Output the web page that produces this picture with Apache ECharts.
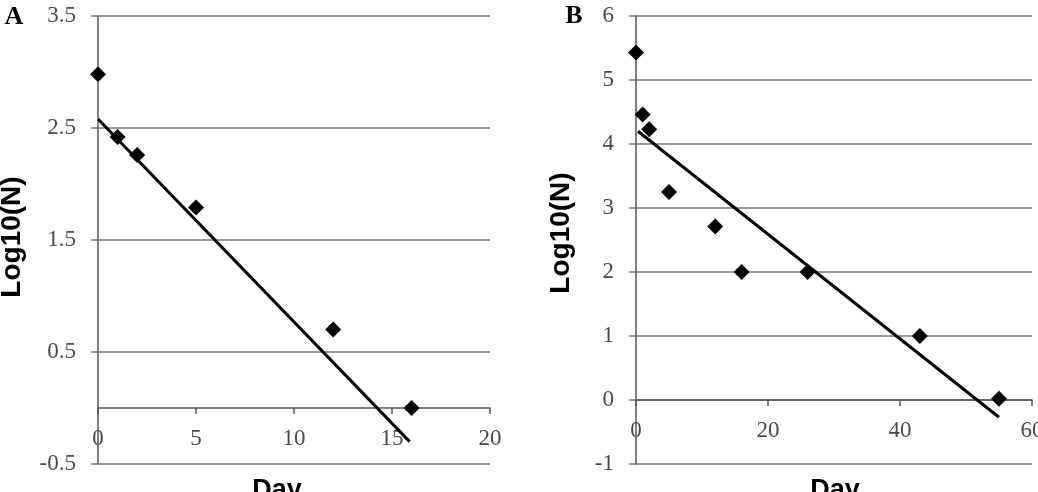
<!DOCTYPE HTML>
<html lang="en">

<head>
	<meta charset="utf-8">
	<title>Log10(N) vs Day</title>
	<style>
		html, body {
			margin: 0;
			padding: 0;
			background: #fff;
		}

		#chart {
			width: 1038px;
			height: 492px;
		}
	</style>
</head>

<body>
	<div id="chart"></div>

	<script src="https://cdn.jsdelivr.net/npm/echarts@6/dist/echarts.min.js"></script>

	<script>
		// panel A
		var daysA = [0, 1, 2, 5, 12, 16];
		var logA = [2.98, 2.42, 2.26, 1.79, 0.70, 0.0];
		var trendA = [[0, 2.58], [15.9, -0.3]];
		var yTicksA = ['-0.5', '0.5', '1.5', '2.5', '3.5'];

		// panel B
		var daysB = [0, 1, 2, 5, 12, 16, 26, 43, 55];
		var logB = [5.43, 4.46, 4.23, 3.25, 2.71, 2.0, 2.0, 1.0, 0.02];
		var trendB = [[0.3, 4.2], [55, -0.27]];

		var tickFont = 'Liberation Serif, Times New Roman, serif';
		var titleFont = 'Liberation Sans, Arial, sans-serif';
		var gridColor = '#777';

		function pairs(xs, ys) {
			return xs.map(function (x, i) { return [x, ys[i]]; });
		}

		var label = {
			color: '#4a4a4a',
			fontFamily: tickFont,
			fontSize: 23,
			margin: 19
		};

		var chart = echarts.init(document.getElementById('chart'));

		// x axes cross at y = 0, i.e. 56px (A) and 64px (B) above the plot bottom
		chart.setOption({
			animation: false,
			grid: [
				{ left: 98, right: 548, top: 16, bottom: 28, containLabel: false, outerBoundsMode: 'none' },
				{ left: 636, right: 6, top: 16, bottom: 28, containLabel: false, outerBoundsMode: 'none' }
			],
			xAxis: [
				{
					gridIndex: 0, type: 'value', min: 0, max: 20, interval: 5,
					position: 'bottom', offset: -56,
					axisLine: { onZero: false, lineStyle: { color: '#555', width: 1.5 } },
					axisTick: { show: true, length: 6, lineStyle: { color: '#555', width: 1.5 } },
					axisLabel: label,
					splitLine: { show: false }
				},
				{
					gridIndex: 1, type: 'value', min: 0, max: 60, interval: 20,
					position: 'bottom', offset: -64,
					axisLine: { onZero: false, lineStyle: { color: '#555', width: 1.5 } },
					axisTick: { show: true, length: 6, lineStyle: { color: '#555', width: 1.5 } },
					axisLabel: label,
					splitLine: { show: false }
				}
			],
			yAxis: [
				// data scale for A (ticks sit on half values, so labels come from the next axis)
				{ gridIndex: 0, type: 'value', min: -0.5, max: 3.5, show: false },
				{
					gridIndex: 0, type: 'value', min: 0, max: 4, interval: 1, position: 'left',
					axisLine: { show: true, onZero: false, lineStyle: { color: '#555', width: 1.5 } },
					axisTick: { show: true, length: 7, lineStyle: { color: gridColor, width: 1.5 } },
					axisLabel: Object.assign({}, label, {
						margin: 22,
						formatter: function (v) { return yTicksA[v]; }
					}),
					splitLine: { show: true, lineStyle: { color: gridColor, width: 1.6 } }
				},
				{
					gridIndex: 1, type: 'value', min: -1, max: 6, interval: 1,
					axisLine: { show: true, onZero: false, lineStyle: { color: '#555', width: 1.5 } },
					axisTick: { show: true, length: 7, lineStyle: { color: gridColor, width: 1.5 } },
					axisLabel: Object.assign({}, label, { margin: 22 }),
					splitLine: { show: true, lineStyle: { color: gridColor, width: 1.6 } }
				}
			],
			series: [
				{
					type: 'line', xAxisIndex: 0, yAxisIndex: 0, data: trendA,
					showSymbol: false, lineStyle: { color: '#000', width: 3 }, z: 3
				},
				{
					type: 'scatter', xAxisIndex: 0, yAxisIndex: 0, data: pairs(daysA, logA),
					symbol: 'diamond', symbolSize: 16, itemStyle: { color: '#000', opacity: 1 }, z: 4
				},
				{
					type: 'line', xAxisIndex: 1, yAxisIndex: 2, data: trendB,
					showSymbol: false, lineStyle: { color: '#000', width: 3 }, z: 3
				},
				{
					type: 'scatter', xAxisIndex: 1, yAxisIndex: 2, data: pairs(daysB, logB),
					symbol: 'diamond', symbolSize: 16, itemStyle: { color: '#000', opacity: 1 }, z: 4
				}
			],
			graphic: [
				{ type: 'text', x: 14, y: 17, style: { text: 'A', font: 'bold 26px ' + tickFont, fill: '#000', align: 'center', verticalAlign: 'middle' } },
				{ type: 'text', x: 574, y: 16, style: { text: 'B', font: 'bold 26px ' + tickFont, fill: '#000', align: 'center', verticalAlign: 'middle' } },
				{ type: 'text', x: 12, y: 237, rotation: Math.PI / 2, style: { text: 'Log10(N)', font: 'bold 28px ' + titleFont, fill: '#000', align: 'center', verticalAlign: 'middle' } },
				{ type: 'text', x: 561, y: 233, rotation: Math.PI / 2, style: { text: 'Log10(N)', font: 'bold 28px ' + titleFont, fill: '#000', align: 'center', verticalAlign: 'middle' } },
				{ type: 'text', x: 277, y: 491, style: { text: 'Day', font: 'bold 27px ' + titleFont, fill: '#000', align: 'center', verticalAlign: 'middle' } },
				{ type: 'text', x: 835, y: 491, style: { text: 'Day', font: 'bold 27px ' + titleFont, fill: '#000', align: 'center', verticalAlign: 'middle' } }
			]
		});
	</script>
</body>

</html>
